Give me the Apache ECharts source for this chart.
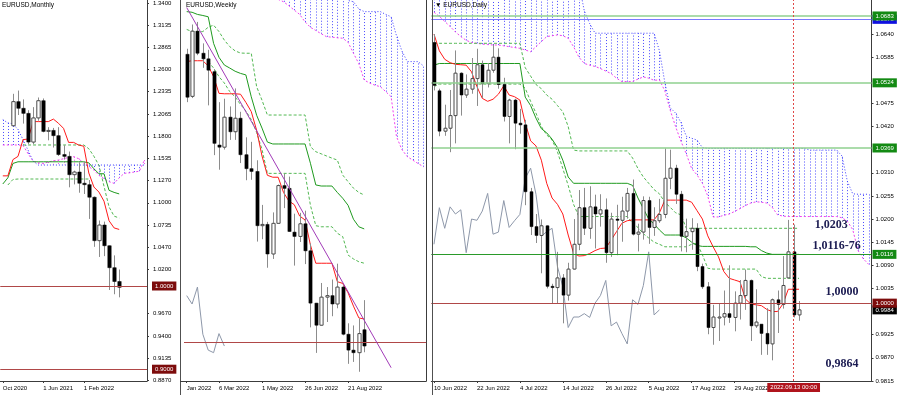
<!DOCTYPE html>
<html><head><meta charset="utf-8">
<script src="https://cdn.jsdelivr.net/npm/echarts@6/dist/echarts.min.js"></script>
<style>html,body{margin:0;padding:0;background:#fff}#c{width:900px;height:395px}</style>
</head><body><div id="c"></div>
<script>
// ================= MONTHLY =================
const monthlyCats = ['1 Oct 2020','1 Nov 2020','1 Dec 2020','1 Jan 2021','1 Feb 2021','1 Mar 2021','1 Apr 2021','1 May 2021','1 Jun 2021','1 Jul 2021','1 Aug 2021','1 Sep 2021','1 Oct 2021','1 Nov 2021','1 Dec 2021','1 Jan 2022','1 Feb 2022','1 Mar 2022','1 Apr 2022','1 May 2022','1 Jun 2022','1 Jul 2022','1 Aug 2022','1 Sep 2022','1 Oct 2022','1 Nov 2022','1 Dec 2022','1 Jan 2023','1 Feb 2023'];
const monthlyFirstCandle = '1 Dec 2020';
const mO = [1.1926,1.2216,1.2136,1.2075,1.1730,1.2020,1.2227,1.1858,1.1870,1.1807,1.1580,1.1558,1.1338,1.1370,1.1235,1.1218,1.1067,1.0545,1.0733,1.0484,1.0220,1.0054];
const mH = [1.2310,1.2349,1.2243,1.2113,1.2150,1.2266,1.2254,1.1909,1.1900,1.1909,1.1692,1.1616,1.1386,1.1482,1.1495,1.1274,1.1076,1.0787,1.0774,1.0486,1.0368,1.0198];
const mL = [1.1925,1.2055,1.1952,1.1704,1.1704,1.1986,1.1847,1.1751,1.1664,1.1563,1.1524,1.1186,1.1221,1.1121,1.1106,1.0806,1.0471,1.0349,1.0359,0.9952,0.9901,0.9864];
const mC = [1.2216,1.2136,1.2075,1.1730,1.2020,1.2227,1.1858,1.1870,1.1807,1.1580,1.1558,1.1338,1.1370,1.1235,1.1218,1.1067,1.0545,1.0733,1.0484,1.0220,1.0054,0.9984];
const mTenkan = [1.1324,1.1324,1.1519,1.1558,1.1759,1.1767,1.1976,1.1976,1.1976,1.1976,1.2006,1.1956,1.1895,1.1726,1.1726,1.1694,1.1680,1.1358,1.1190,1.1129,1.1020,1.0784,1.0698,1.0680];
const mKijun = [1.1226,1.1300,1.1473,1.1493,1.1493,1.1493,1.1493,1.1493,1.1493,1.1493,1.1493,1.1493,1.1493,1.1493,1.1493,1.1493,1.1493,1.1480,1.1410,1.1349,1.1349,1.1150,1.1125,1.1107];
const mDash1 = [null,null,null,null,1.1695,1.1695,1.1695,1.1695,1.1695,1.1695,1.1695,1.1695,1.1695,1.1695,1.1695,1.1695,1.1695,1.1650,1.1560,1.1450,1.1200,1.0950,1.0840,1.0817];
const mDash2 = [null,1.1214,1.1280,1.1286,1.1286,1.1286,1.1286,1.1286,1.1286,1.1286,1.1286,1.1286,1.1286,1.1286,1.1286,1.1286,1.1286,1.1286];
const mSpanA = [1.1695,1.1695,1.1695,1.1695,1.1690,1.1590,1.1500,1.1480,1.1474,1.1490,1.1505,1.1514,1.1530,1.1545,1.1554,1.1530,1.1474,1.1434,1.1394,1.1330,1.1290,1.1254,1.1234,1.1300,1.1354,1.1360,1.1370,1.1380,1.1514];
const mSpanB = [1.2000,1.1960,1.1950,1.1880,1.1760,1.1630,1.1500,1.1454,1.1454,1.1454,1.1454,1.1454,1.1454,1.1454,1.1454,1.1454,1.1454,1.1454,1.1454,1.1454,1.1454,1.1454,1.1454,1.1454,1.1454,1.1454,1.1454,1.1454,1.1454];
const monthlyTicks = [1.3400,1.3135,1.2865,1.2600,1.2335,1.2065,1.1800,1.1535,1.1270,1.1000,1.0735,1.0470,1.0200,0.9670,0.9400,0.9135,0.8870];
const monthlyDateTicks = ['1 Oct 2020','1 Jun 2021','1 Feb 2022'];
const monthlyDateTexts = ['Oct 2020','1 Jun 2021','1 Feb 2022'];
const monthlyLevels = [1.0000, 0.9000];

// ================= WEEKLY =================
const weeklyCats = ['23 Jan 2022','30 Jan 2022','6 Feb 2022','13 Feb 2022','20 Feb 2022','27 Feb 2022','6 Mar 2022','13 Mar 2022','20 Mar 2022','27 Mar 2022','3 Apr 2022','10 Apr 2022','17 Apr 2022','24 Apr 2022','1 May 2022','8 May 2022','15 May 2022','22 May 2022','29 May 2022','5 Jun 2022','12 Jun 2022','19 Jun 2022','26 Jun 2022','3 Jul 2022','10 Jul 2022','17 Jul 2022','24 Jul 2022','31 Jul 2022','7 Aug 2022','14 Aug 2022','21 Aug 2022','28 Aug 2022','4 Sep 2022','11 Sep 2022','18 Sep 2022','25 Sep 2022','2 Oct 2022','9 Oct 2022','16 Oct 2022','23 Oct 2022','30 Oct 2022','6 Nov 2022','13 Nov 2022','20 Nov 2022','27 Nov 2022'];
const wO = [1.1344,1.1148,1.1452,1.1349,1.1323,1.1263,1.0921,1.0911,1.1051,1.0983,1.1046,1.0876,1.0811,1.0798,1.0545,1.0551,1.0413,1.0556,1.0732,1.0719,1.0515,1.0495,1.0554,1.0428,1.0184,1.0081,1.0212,1.0219,1.0180,1.0259,1.0039,0.9965,0.9953,1.0060];
const wH = [1.1370,1.1483,1.1495,1.1395,1.1365,1.1274,1.1121,1.1137,1.1101,1.1185,1.1076,1.0957,1.0936,1.0850,1.0642,1.0563,1.0607,1.0737,1.0787,1.0774,1.0601,1.0605,1.0615,1.0462,1.0185,1.0278,1.0259,1.0294,1.0368,1.0267,1.0090,1.0080,1.0112,1.0198];
const wL = [1.1121,1.1140,1.1340,1.1281,1.1106,1.0874,1.0806,1.0900,1.0945,1.0945,1.0837,1.0757,1.0759,1.0471,1.0482,1.0349,1.0390,1.0556,1.0627,1.0517,1.0359,1.0469,1.0366,1.0071,0.9952,1.0080,1.0096,1.0123,1.0160,1.0034,0.9901,0.9910,0.9864,0.9955];
const wC = [1.1144,1.1452,1.1349,1.1323,1.1270,1.0929,1.0911,1.1051,1.0983,1.1046,1.0876,1.0811,1.0798,1.0545,1.0551,1.0413,1.0556,1.0732,1.0719,1.0518,1.0495,1.0554,1.0428,1.0184,1.0081,1.0212,1.0219,1.0180,1.0259,1.0039,0.9965,0.9953,1.0042,0.9984];
const wTenkan = [1.1310,1.1314,1.1314,1.1314,1.1290,1.1240,1.1162,1.1160,1.1160,1.1160,1.1158,1.1120,1.1077,1.0990,1.0870,1.0780,1.0771,1.0771,1.0700,1.0660,1.0643,1.0590,1.0572,1.0455,1.0370,1.0370,1.0370,1.0370,1.0284,1.0276,1.0232,1.0170,1.0115,1.0110];
const wKijun = [1.1543,1.1540,1.1530,1.1525,1.1519,1.1395,1.1330,1.1294,1.1280,1.1265,1.1255,1.1248,1.1146,1.1060,1.1000,1.0935,1.0926,1.0926,1.0926,1.0926,1.0926,1.0926,1.0926,1.0836,1.0735,1.0730,1.0730,1.0730,1.0700,1.0673,1.0640,1.0575,1.0540,1.0530];
const wDash1 = [1.1460,1.1450,1.1450,1.1450,1.1470,1.1480,1.1450,1.1410,1.1380,1.1360,1.1350,1.1349,1.1349,1.1193,1.1130,1.1061,1.1061,1.1061,1.1061,1.1061,1.1061,1.1061,1.1061,1.0913,1.0890,1.0880,1.0870,1.0860,1.0851,1.0781,1.0750,1.0720,1.0700,1.0688];
const wDash2 = [null,null,null,null,1.1310,1.1280,1.1240,1.1210,1.1170,1.1146,1.1110,1.1080,1.1040,1.0980,1.0900,1.0789,1.0789,1.0789,1.0789,1.0789,1.0789,1.0789,1.0789,1.0640,1.0545,1.0540,1.0540,1.0540,1.0510,1.0494,1.0408,1.0390,1.0377,1.0370];
const wChikou = [1.0219,1.0180,1.0259,1.0039,0.9965,0.9953,1.0042,0.9984];
const wSpanA = [null,null,null,null,null,null,null,null,null,null,null,null,null,null,null,null,null,1.1600,1.1589,1.1570,1.1550,1.1530,1.1495,1.1470,1.1455,1.1440,1.1426,1.1424,1.1421,1.1419,1.1400,1.1349,1.1300,1.1224,1.1210,1.1200,1.1193,1.1170,1.1146,1.0960,1.0900,1.0867,1.0851,1.0835,1.0820];
const wSpanB = [null,null,null,null,null,null,null,null,null,null,null,null,null,null,null,null,null,1.1750,1.1750,1.1750,1.1750,1.1750,1.1750,1.1750,1.1750,1.1750,1.1750,1.1750,1.1750,1.1750,1.1595,1.1589,1.1555,1.1543,1.1543,1.1543,1.1543,1.1530,1.1519,1.1430,1.1360,1.1310,1.1310,1.1310,1.1290];
const wTrendCats = ['23 Jan 2022','16 Oct 2022'];
const wTrendVals = [1.1562, 0.9883];
const weeklyDateTicks = ['23 Jan 2022','6 Mar 2022','1 May 2022','26 Jun 2022','21 Aug 2022'];
const weeklyDateTexts = ['Jan 2022','6 Mar 2022','1 May 2022','26 Jun 2022','21 Aug 2022'];
const weeklyLevels = [1.0000];

// ================= DAILY =================
const dailyCats = ['10 Jun 2022','13 Jun 2022','14 Jun 2022','15 Jun 2022','16 Jun 2022','17 Jun 2022','20 Jun 2022','21 Jun 2022','22 Jun 2022','23 Jun 2022','24 Jun 2022','27 Jun 2022','28 Jun 2022','29 Jun 2022','30 Jun 2022','1 Jul 2022','4 Jul 2022','5 Jul 2022','6 Jul 2022','7 Jul 2022','8 Jul 2022','11 Jul 2022','12 Jul 2022','13 Jul 2022','14 Jul 2022','15 Jul 2022','18 Jul 2022','19 Jul 2022','20 Jul 2022','21 Jul 2022','22 Jul 2022','25 Jul 2022','26 Jul 2022','27 Jul 2022','28 Jul 2022','29 Jul 2022','1 Aug 2022','2 Aug 2022','3 Aug 2022','4 Aug 2022','5 Aug 2022','8 Aug 2022','9 Aug 2022','10 Aug 2022','11 Aug 2022','12 Aug 2022','15 Aug 2022','16 Aug 2022','17 Aug 2022','18 Aug 2022','19 Aug 2022','22 Aug 2022','23 Aug 2022','24 Aug 2022','25 Aug 2022','26 Aug 2022','29 Aug 2022','30 Aug 2022','31 Aug 2022','1 Sep 2022','2 Sep 2022','5 Sep 2022','6 Sep 2022','7 Sep 2022','8 Sep 2022','9 Sep 2022','12 Sep 2022','13 Sep 2022','14 Sep 2022','15 Sep 2022','16 Sep 2022','19 Sep 2022','20 Sep 2022','21 Sep 2022','22 Sep 2022','23 Sep 2022','26 Sep 2022','27 Sep 2022','28 Sep 2022','29 Sep 2022','30 Sep 2022','3 Oct 2022'];
const dO = [1.0620,1.0505,1.0409,1.0416,1.0446,1.0547,1.0495,1.0509,1.0534,1.0567,1.0522,1.0554,1.0585,1.0520,1.0444,1.0483,1.0428,1.0424,1.0265,1.0182,1.0161,1.0184,1.0040,1.0037,1.0060,1.0019,1.0081,1.0140,1.0227,1.0178,1.0229,1.0212,1.0222,1.0120,1.0200,1.0197,1.0219,1.0261,1.0164,1.0169,1.0244,1.0180,1.0196,1.0211,1.0297,1.0321,1.0259,1.0159,1.0170,1.0178,1.0087,1.0039,0.9942,0.9967,0.9967,0.9975,0.9966,1.0000,1.0018,1.0054,0.9946,0.9950,0.9928,0.9903,1.0008,0.9997,1.0060,1.0122,0.9972];
const dH = [1.0640,1.0510,1.0472,1.0507,1.0601,1.0549,1.0544,1.0583,1.0605,1.0577,1.0571,1.0615,1.0606,1.0536,1.0486,1.0486,1.0462,1.0436,1.0274,1.0212,1.0199,1.0185,1.0046,1.0122,1.0069,1.0096,1.0200,1.0269,1.0274,1.0278,1.0258,1.0259,1.0249,1.0215,1.0234,1.0253,1.0274,1.0294,1.0189,1.0254,1.0253,1.0228,1.0248,1.0368,1.0365,1.0329,1.0267,1.0201,1.0202,1.0190,1.0094,1.0050,0.9996,0.9999,1.0030,1.0090,1.0028,1.0055,1.0080,1.0056,1.0033,0.9950,0.9988,1.0011,1.0030,1.0112,1.0198,1.0187,1.0005];
const dL = [1.0506,1.0397,1.0398,1.0359,1.0380,1.0446,1.0488,1.0498,1.0469,1.0488,1.0513,1.0548,1.0510,1.0432,1.0380,1.0366,1.0403,1.0233,1.0162,1.0143,1.0071,1.0035,0.9998,0.9998,0.9952,1.0006,1.0080,1.0126,1.0162,1.0153,1.0130,1.0182,1.0096,1.0110,1.0114,1.0146,1.0201,1.0161,1.0123,1.0151,1.0141,1.0160,1.0191,1.0202,1.0271,1.0236,1.0123,1.0121,1.0127,1.0076,1.0034,0.9926,0.9901,0.9910,0.9947,0.9953,0.9933,0.9961,0.9984,0.9910,0.9941,0.9877,0.9877,0.9864,0.9929,0.9987,1.0060,0.9966,0.9958];
const dC = [1.0518,1.0409,1.0416,1.0446,1.0547,1.0495,1.0509,1.0534,1.0567,1.0522,1.0554,1.0585,1.0520,1.0444,1.0483,1.0428,1.0424,1.0265,1.0182,1.0161,1.0184,1.0040,1.0037,1.0060,1.0019,1.0081,1.0140,1.0227,1.0178,1.0229,1.0212,1.0222,1.0120,1.0200,1.0197,1.0219,1.0261,1.0164,1.0169,1.0244,1.0180,1.0196,1.0211,1.0297,1.0321,1.0259,1.0159,1.0170,1.0178,1.0087,1.0039,0.9942,0.9967,0.9967,0.9975,0.9966,1.0000,1.0018,1.0054,0.9946,0.9955,0.9928,0.9903,1.0008,0.9997,1.0042,1.0122,0.9972,0.9984];
const dTenkan = [1.0640,1.0600,1.0580,1.0572,1.0568,1.0567,1.0566,1.0550,1.0515,1.0487,1.0480,1.0485,1.0497,1.0517,1.0495,1.0491,1.0483,1.0428,1.0386,1.0374,1.0340,1.0285,1.0250,1.0235,1.0212,1.0162,1.0119,1.0112,1.0113,1.0118,1.0125,1.0130,1.0131,1.0150,1.0170,1.0190,1.0196,1.0198,1.0198,1.0198,1.0198,1.0198,1.0215,1.0245,1.0245,1.0245,1.0245,1.0245,1.0240,1.0220,1.0200,1.0160,1.0134,1.0110,1.0075,1.0059,1.0055,1.0051,1.0010,0.9998,0.9996,0.9994,0.9985,0.9980,0.9980,0.9998,1.0033,1.0033,1.0033];
const dKijun = [1.0566,1.0570,1.0570,1.0570,1.0570,1.0570,1.0570,1.0570,1.0570,1.0570,1.0570,1.0570,1.0570,1.0570,1.0570,1.0570,1.0570,1.0490,1.0470,1.0440,1.0415,1.0405,1.0390,1.0370,1.0340,1.0300,1.0285,1.0285,1.0285,1.0285,1.0285,1.0285,1.0285,1.0285,1.0285,1.0285,1.0285,1.0280,1.0250,1.0225,1.0200,1.0188,1.0174,1.0162,1.0162,1.0162,1.0162,1.0155,1.0145,1.0137,1.0135,1.0135,1.0135,1.0135,1.0135,1.0135,1.0135,1.0135,1.0135,1.0134,1.0134,1.0125,1.0119,1.0116,1.0116,1.0116,1.0116,1.0116,1.0116];
const dDash1 = [1.0618,1.0618,1.0618,1.0618,1.0618,1.0618,1.0618,1.0618,1.0618,1.0618,1.0618,1.0618,1.0618,1.0618,1.0618,1.0618,1.0618,1.0560,1.0540,1.0520,1.0510,1.0495,1.0485,1.0470,1.0455,1.0420,1.0364,1.0362,1.0362,1.0362,1.0362,1.0362,1.0362,1.0362,1.0362,1.0362,1.0362,1.0345,1.0320,1.0300,1.0285,1.0270,1.0260,1.0240,1.0228,1.0215,1.0210,1.0178,1.0178,1.0178,1.0178,1.0178,1.0178,1.0178,1.0178,1.0178,1.0178,1.0178,1.0178,1.0178,1.0178,1.0178,1.0178,1.0178,1.0178,1.0178,1.0178,1.0178,1.0178];
const dDash2 = [1.0515,1.0521,1.0521,1.0521,1.0521,1.0521,1.0521,1.0521,1.0521,1.0521,1.0521,1.0521,1.0521,1.0521,1.0521,1.0521,1.0521,1.0511,1.0480,1.0452,1.0420,1.0400,1.0388,1.0360,1.0320,1.0280,1.0235,1.0206,1.0206,1.0206,1.0206,1.0206,1.0206,1.0206,1.0206,1.0206,1.0206,1.0190,1.0180,1.0165,1.0155,1.0145,1.0140,1.0134,1.0134,1.0134,1.0134,1.0134,1.0140,1.0142,1.0115,1.0083,1.0081,1.0081,1.0081,1.0081,1.0081,1.0081,1.0081,1.0081,1.0081,1.0063,1.0059,1.0059,1.0059,1.0059,1.0059,1.0059,1.0059];
const dChikou = [1.0140,1.0227,1.0178,1.0229,1.0212,1.0222,1.0120,1.0200,1.0197,1.0219,1.0261,1.0164,1.0169,1.0244,1.0180,1.0196,1.0211,1.0297,1.0321,1.0259,1.0159,1.0170,1.0178,1.0087,1.0039,0.9942,0.9967,0.9967,0.9975,0.9966,1.0000,1.0018,1.0054,0.9946,0.9955,0.9928,0.9903,1.0008,0.9997,1.0042,1.0122,0.9972,0.9984];
const dSpanA = [1.0692,1.0682,1.0670,1.0658,1.0645,1.0634,1.0625,1.0620,1.0618,1.0616,1.0615,1.0614,1.0614,1.0612,1.0610,1.0608,1.0606,1.0602,1.0598,1.0610,1.0622,1.0634,1.0636,1.0638,1.0636,1.0630,1.0610,1.0585,1.0570,1.0566,1.0563,1.0558,1.0552,1.0546,1.0535,1.0527,1.0527,1.0527,1.0533,1.0538,1.0535,1.0530,1.0531,1.0505,1.0459,1.0420,1.0385,1.0355,1.0320,1.0305,1.0285,1.0255,1.0205,1.0205,1.0209,1.0212,1.0218,1.0225,1.0232,1.0238,1.0241,1.0240,1.0238,1.0228,1.0210,1.0207,1.0206,1.0206,1.0206,1.0206,1.0206,1.0206,1.0206,1.0206,1.0206,1.0206,1.0203,1.0195,1.0175,1.0125,1.0105,1.0092];
const dSpanB = [1.0760,1.0760,1.0760,1.0760,1.0760,1.0760,1.0760,1.0760,1.0760,1.0760,1.0760,1.0760,1.0760,1.0760,1.0760,1.0760,1.0760,1.0760,1.0760,1.0760,1.0760,1.0760,1.0760,1.0760,1.0760,1.0760,1.0760,1.0760,1.0695,1.0665,1.0642,1.0642,1.0642,1.0642,1.0642,1.0642,1.0642,1.0642,1.0642,1.0642,1.0642,1.0642,1.0600,1.0525,1.0465,1.0452,1.0430,1.0397,1.0392,1.0388,1.0370,1.0368,1.0368,1.0368,1.0368,1.0368,1.0368,1.0368,1.0368,1.0368,1.0368,1.0368,1.0368,1.0368,1.0368,1.0368,1.0368,1.0368,1.0368,1.0368,1.0364,1.0364,1.0364,1.0364,1.0364,1.0364,1.0350,1.0290,1.0260,1.0259,1.0259,1.0259];
const dailyTicks = [1.0640,1.0585,1.0475,1.0420,1.0310,1.0255,1.0200,1.0145,1.0090,1.0035,0.9925,0.9870,0.9815];
const dailyDateTicks = ['10 Jun 2022','22 Jun 2022','4 Jul 2022','14 Jul 2022','26 Jul 2022','5 Aug 2022','17 Aug 2022','29 Aug 2022'];
const dailyLevels = [1.0675, 1.0683, 1.0524, 1.0369, 1.0116, 0.9984, 1.0000];
const dailyLevelKind = ['blue','green','green','green','greenDark','price','red'];
const crosshairDate = '13 Sep 2022';
const crosshairText = '2022.09.13 00:00';
const annTexts = ['1,0203','1,0116-76','1,0000','0,9864'];
const annCats = ['22 Sep 2022','23 Sep 2022','26 Sep 2022','26 Sep 2022'];
const annPrices = [1.0186, 1.0136, 1.00266, 0.98554];

// ================= RENDERING =================
const FONT = 'Liberation Sans';
const AX = '#3c3c3c';
const C_TENKAN = '#ff1a1a', C_KIJUN = '#1f9a1f', C_DASH = '#52b852', C_CHIKOU = '#8e98aa';
const C_SPANA = '#f040f0', C_SPANB = '#3a3aff';

function xAxisCfg(gi, cats, tickCats, tickTexts) {
  const map = {};
  tickCats.forEach((c, k) => { map[c] = tickTexts ? tickTexts[k] : c; });
  return {
    type: 'category', gridIndex: gi, data: cats, boundaryGap: true,
    axisLine: {show: true, lineStyle: {color: AX, width: 1}},
    axisTick: {show: true, alignWithLabel: true, length: 2, interval: (i, v) => Object.prototype.hasOwnProperty.call(map, v), lineStyle: {color: AX}},
    axisLabel: {show: true, interval: 0, formatter: (v) => map[v] || '', align: 'left', margin: 4, fontSize: 6, fontFamily: FONT, color: '#000'},
    splitLine: {show: false}
  };
}
function yAxisCfg(gi, min, max, ticks, margin) {
  const show = !!ticks;
  return {
    type: 'value', gridIndex: gi, min, max, position: 'right', scale: true,
    axisLine: {show: true, onZero: false, lineStyle: {color: AX}},
    axisTick: show ? {show: true, length: 2, customValues: ticks, lineStyle: {color: AX}} : {show: false},
    axisLabel: show ? {show: true, customValues: ticks, formatter: (v) => v.toFixed(4), fontSize: 6, fontFamily: FONT, color: '#000', margin: margin} : {show: false},
    splitLine: {show: false}
  };
}
function candleSeries(gi, cats, O, H, L, C, bodyW) {
  const data = O.map((o, k) => [cats[k], o, C[k], L[k], H[k]]);
  return {
    type: 'custom', xAxisIndex: gi, yAxisIndex: gi, clip: true, z: 4, silent: true,
    encode: {x: 0, y: [1, 2, 3, 4]},
    data,
    renderItem: (params, api) => {
      const x = api.value(0), o = api.value(1), c = api.value(2), l = api.value(3), h = api.value(4);
      const pO = api.coord([x, o]), pC = api.coord([x, c]), pL = api.coord([x, l]), pH = api.coord([x, h]);
      const cx = Math.round(pO[0]) + 0.5;
      const top = Math.min(pO[1], pC[1]), bot = Math.max(pO[1], pC[1]);
      const up = c >= o;
      return {type: 'group', children: [
        {type: 'line', shape: {x1: cx, y1: pH[1], x2: cx, y2: pL[1]}, style: {stroke: '#8c8c8c', lineWidth: 1}},
        {type: 'rect', shape: {x: cx - bodyW / 2, y: top, width: bodyW, height: Math.max(bot - top, 1)},
          style: up ? {fill: '#ffffff', stroke: '#4a4a4a', lineWidth: 1} : {fill: '#000000', stroke: '#000000', lineWidth: 0.5}}
      ]};
    }
  };
}
function lineSeries(gi, data, color, type, width, z) {
  return {type: 'line', xAxisIndex: gi, yAxisIndex: gi, data, symbol: 'none', showSymbol: false, silent: true,
    connectNulls: false, z: z || 3, lineStyle: {color, width: width || 1, type: type || 'solid'}};
}
function hatchSeries(gi, cats, A, B) {
  const data = [];
  cats.forEach((c, k) => { if (A[k] != null && B[k] != null) data.push([c, A[k], B[k]]); });
  return {
    type: 'custom', xAxisIndex: gi, yAxisIndex: gi, clip: true, z: 1, silent: true,
    encode: {x: 0, y: [1, 2]}, data,
    renderItem: (params, api) => {
      const x = api.value(0), a = api.value(1), b = api.value(2);
      const p1 = api.coord([x, a]), p2 = api.coord([x, b]);
      const cx = Math.round(p1[0]) + 0.5;
      return {type: 'line', shape: {x1: cx, y1: p1[1], x2: cx, y2: p2[1]},
        style: {stroke: b >= a ? '#4b4bff' : '#ee55ee', lineWidth: 1, lineDash: [1, 2]}};
    }
  };
}
function levelLabel(text, bg, dist) {
  return {show: true, position: 'end', formatter: text, backgroundColor: bg, color: '#fff', padding: [1, 3, 1, 3],
    fontSize: 6, fontFamily: FONT, distance: dist, lineHeight: 7};
}
const levelStyles = {
  blue: {line: {color: '#7a7aff', width: 1, type: 'solid'}, bg: '#1010e0'},
  green: {line: {color: '#8fd08f', width: 1.6, type: 'solid'}, bg: '#138a13'},
  greenDark: {line: {color: '#2a9a2a', width: 1.2, type: 'solid'}, bg: '#138a13'},
  red: {line: {color: '#b04848', width: 1, type: 'solid'}, bg: '#7d0c0c'},
  price: {line: {color: 'rgba(0,0,0,0)', width: 1}, bg: '#000000'}
};

const chart = echarts.init(document.getElementById('c'), null, {renderer: 'canvas'});

const mOff = monthlyCats.indexOf(monthlyFirstCandle);
const monthlyCandleCats = monthlyCats.slice(mOff);

const series = [];
// ---- Monthly (grid 0)
series.push(hatchSeries(0, monthlyCats, mSpanA, mSpanB));
series.push(lineSeries(0, mSpanA, C_SPANA, [2, 2], 1));
series.push(lineSeries(0, mSpanB, C_SPANB, [1, 2], 1));
series.push(lineSeries(0, mDash1, C_DASH, [3, 2], 1));
series.push(lineSeries(0, mDash2, C_DASH, [3, 2], 1));
series.push(lineSeries(0, mKijun, C_KIJUN, 'solid', 1));
series.push(lineSeries(0, mTenkan, C_TENKAN, 'solid', 1));
series.push(candleSeries(0, monthlyCandleCats, mO, mH, mL, mC, 3.4));
series.push({type: 'line', xAxisIndex: 0, yAxisIndex: 0, data: [], z: 6, silent: true,
  markLine: {silent: true, symbol: ['none', 'none'], animation: false, precision: 5,
    data: monthlyLevels.map(v => ({yAxis: v, lineStyle: levelStyles.red.line, label: levelLabel(v.toFixed(4), levelStyles.red.bg, 5)}))}});
// ---- Weekly (grid 1)
series.push(hatchSeries(1, weeklyCats, wSpanA, wSpanB));
series.push(lineSeries(1, wSpanA, C_SPANA, [2, 2], 1));
series.push(lineSeries(1, wSpanB, C_SPANB, [1, 2], 1));
series.push(lineSeries(1, wDash1, C_DASH, [3, 2], 1));
series.push(lineSeries(1, wDash2, C_DASH, [3, 2], 1));
series.push(lineSeries(1, wKijun, C_KIJUN, 'solid', 1));
series.push(lineSeries(1, wTenkan, C_TENKAN, 'solid', 1));
series.push(lineSeries(1, wChikou, C_CHIKOU, 'solid', 1));
series.push(lineSeries(1, wTrendCats.map((c, k) => [c, wTrendVals[k]]), '#a23bb8', 'solid', 1, 5));
series.push(candleSeries(1, weeklyCats, wO, wH, wL, wC, 3.2));
series.push({type: 'line', xAxisIndex: 1, yAxisIndex: 1, data: [], z: 6, silent: true,
  markLine: {silent: true, symbol: ['none', 'none'], animation: false, precision: 5,
    data: weeklyLevels.map(v => ({yAxis: v, lineStyle: levelStyles.red.line, label: {show: false}}))}});
// ---- Daily (grid 2)
series.push(hatchSeries(2, dailyCats, dSpanA, dSpanB));
series.push(lineSeries(2, dSpanA, C_SPANA, [2, 2], 1));
series.push(lineSeries(2, dSpanB, C_SPANB, [1, 2], 1));
series.push(lineSeries(2, dDash1, C_DASH, [3, 2], 1));
series.push(lineSeries(2, dDash2, C_DASH, [3, 2], 1));
series.push(lineSeries(2, dKijun, C_KIJUN, 'solid', 1));
series.push(lineSeries(2, dTenkan, C_TENKAN, 'solid', 1));
series.push(lineSeries(2, dChikou, C_CHIKOU, 'solid', 1));
series.push(candleSeries(2, dailyCats, dO, dH, dL, dC, 3));
const dailyMarkData = dailyLevels.map((v, k) => {
  const st = levelStyles[dailyLevelKind[k]];
  return {yAxis: v, lineStyle: st.line, label: levelLabel(v.toFixed(4), st.bg, 1)};
});
dailyMarkData.push({xAxis: dailyCats.indexOf(crosshairDate), lineStyle: {color: '#e04848', width: 1, type: [2, 2]},
  label: {show: true, position: 'start', formatter: crosshairText, backgroundColor: '#b0141c', color: '#fff',
    padding: [1, 3, 1, 3], fontSize: 6, fontFamily: FONT, distance: 2, lineHeight: 7}});
series.push({type: 'line', xAxisIndex: 2, yAxisIndex: 2, data: [], z: 6, silent: true,
  markLine: {silent: true, symbol: ['none', 'none'], animation: false, precision: 5, data: dailyMarkData},
  markPoint: {silent: true, animation: false, symbol: 'circle', symbolSize: 1, itemStyle: {color: 'rgba(0,0,0,0)'},
    label: {show: true, position: 'inside', formatter: '{b}', fontFamily: 'Liberation Serif', fontWeight: 'bold', fontSize: 12, color: '#1c1c52'},
    data: annTexts.map((t, k) => ({name: t, coord: [annCats[k], annPrices[k]]}))}});

const option = {
  animation: false,
  backgroundColor: '#ffffff',
  textStyle: {fontFamily: FONT},
  grid: [
    {left: -10.9, top: 0, width: 157.9, height: 381},
    {left: 184, top: 0, width: 242.1, height: 381},
    {left: 431.3, top: 0, width: 440.2, height: 381}
  ],
  xAxis: [
    xAxisCfg(0, monthlyCats, monthlyDateTicks, monthlyDateTexts),
    xAxisCfg(1, weeklyCats, weeklyDateTicks, weeklyDateTexts),
    xAxisCfg(2, dailyCats, dailyDateTicks)
  ],
  yAxis: [
    yAxisCfg(0, 0.88582, 1.34375, monthlyTicks, 6),
    yAxisCfg(1, 0.98210, 1.15972, null, 4),
    yAxisCfg(2, 0.98148, 1.07210, dailyTicks, 4)
  ],
  series,
  graphic: [
    {type: 'line', shape: {x1: 180.5, y1: 0, x2: 180.5, y2: 395}, style: {stroke: '#505050', lineWidth: 1}, z: 10},
    {type: 'line', shape: {x1: 432.5, y1: 0, x2: 432.5, y2: 395}, style: {stroke: '#505050', lineWidth: 1}, z: 10},
    {type: 'line', shape: {x1: 180, y1: 381.5, x2: 184, y2: 381.5}, style: {stroke: AX, lineWidth: 1}, z: 10},
    {type: 'text', x: 2, y: 2, style: {text: 'EURUSD,Monthly', font: '6.5px "Liberation Sans"', fill: '#000'}, z: 10},
    {type: 'text', x: 186, y: 2, style: {text: 'EURUSD,Weekly', font: '6.5px "Liberation Sans"', fill: '#000'}, z: 10},
    {type: 'text', x: 435, y: 2, style: {text: '\u25BC EURUSD,Daily', font: '6.5px "Liberation Sans"', fill: '#000'}, z: 10}
  ]
};
chart.setOption(option);
</script></body></html>
